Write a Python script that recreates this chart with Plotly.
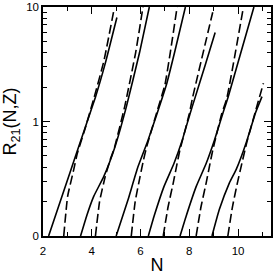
import plotly.graph_objects as go

# Values: six pairs of curves (solid and dashed)
solid_N = [
    [2.23, 2.80, 3.40, 4.15, 4.55, 5.03],
    [3.54, 3.80, 4.08, 4.49, 4.95, 5.42, 5.96, 6.36],
    [5.00, 5.48, 5.89, 6.30, 6.71, 7.06, 7.40, 7.84],
    [6.32, 6.56, 6.96, 7.37, 7.71, 8.03, 8.23, 8.65, 9.06],
    [7.62, 7.87, 8.28, 8.69, 9.03, 9.37, 9.59, 10.10, 10.65],
    [8.93, 9.23, 9.64, 9.92, 10.34, 10.72, 10.98],
]
solid_R = [
    [0.10, 0.229, 0.55, 1.63, 3.2, 8.1],
    [0.10, 0.152, 0.222, 0.33, 0.60, 1.35, 4.0, 10.0],
    [0.10, 0.205, 0.40, 0.68, 1.23, 2.09, 4.05, 10.0],
    [0.10, 0.15, 0.27, 0.43, 0.687, 1.17, 1.6, 3.1, 6.0],
    [0.10, 0.149, 0.27, 0.43, 0.687, 1.17, 1.63, 3.9, 10.0],
    [0.10, 0.17, 0.29, 0.38, 0.66, 1.2, 1.65],
]
dashed_N = [
    [2.85, 3.01, 3.26, 3.40, 3.70, 4.10, 4.50, 4.92],
    [4.15, 4.32, 4.55, 4.75, 4.92, 5.35, 5.80, 6.10],
    [5.62, 5.78, 5.98, 6.12, 6.25, 6.68, 7.00, 7.22, 7.50],
    [6.93, 7.13, 7.34, 7.47, 7.61, 7.70, 8.00, 8.13, 8.96],
    [8.28, 8.48, 8.69, 8.82, 8.96, 9.04, 9.33, 9.54, 10.22],
    [9.58, 9.77, 9.97, 10.12, 10.28, 10.36, 10.70, 11.04],
]
dashed_R = [
    [0.10, 0.222, 0.38, 0.52, 0.83, 1.63, 3.4, 9.7],
    [0.10, 0.20, 0.33, 0.46, 0.58, 1.35, 4.0, 10.0],
    [0.10, 0.20, 0.33, 0.46, 0.60, 1.23, 2.09, 4.0, 10.0],
    [0.10, 0.18, 0.29, 0.40, 0.56, 0.66, 1.17, 1.6, 9.0],
    [0.10, 0.18, 0.29, 0.40, 0.56, 0.66, 1.17, 1.6, 10.0],
    [0.10, 0.18, 0.29, 0.40, 0.56, 0.66, 1.2, 2.16],
]
y_tickvals = [0.1, 1, 10]
y_ticktext = ["0", "1", "10"]
y_minor_vals = [0.2, 0.3, 0.4, 0.5, 0.6, 0.7, 0.8, 0.9, 2, 3, 4, 5, 6, 7, 8, 9]

fig = go.Figure()
for xs, ys in zip(solid_N, solid_R):
    fig.add_trace(go.Scatter(x=xs, y=ys, mode="lines",
                             line=dict(color="black", width=1.6, shape="spline", smoothing=0.4)))
for xs, ys in zip(dashed_N, dashed_R):
    fig.add_trace(go.Scatter(x=xs, y=ys, mode="lines",
                             line=dict(color="black", width=1.6, dash="9px,4px",
                                       shape="spline", smoothing=0.4)))

axis_common = dict(showline=True, linecolor="black", linewidth=1.5, mirror="ticks",
                   ticks="inside", ticklen=7, tickwidth=1.2, tickcolor="black",
                   showgrid=False, zeroline=False, tickfont=dict(size=11.5, color="black"),
                   ticklabeloverflow="allow")

fig.update_xaxes(range=[2, 11.35], tickmode="linear", tick0=2, dtick=2,
                 minor=dict(dtick=1, ticks="inside", ticklen=4, tickwidth=1.2, tickcolor="black"),
                 ticklabelstandoff=3,
                 title=dict(text="N", font=dict(size=18, color="black"), standoff=3),
                 **axis_common)
fig.update_yaxes(type="log", range=[-1, 1], tickmode="array", tickvals=y_tickvals, ticktext=y_ticktext,
                 minor=dict(tickmode="array", tickvals=y_minor_vals, ticks="inside", ticklen=4,
                            tickwidth=1.2, tickcolor="black"),
                 title=dict(text="R<sub>21</sub>(N,Z)", font=dict(size=18, color="black"), standoff=6),
                 **axis_common)

fig.update_layout(width=276, height=276, margin=dict(l=43, r=5, t=7, b=40, autoexpand=False),
                  plot_bgcolor="white", paper_bgcolor="white", showlegend=False,
                  font=dict(family="Liberation Sans, Arial, sans-serif", color="black"))

fig.write_html("out.html", config={"displayModeBar": False},
               post_script="document.body.style.margin='0';document.body.style.overflow='hidden';")
